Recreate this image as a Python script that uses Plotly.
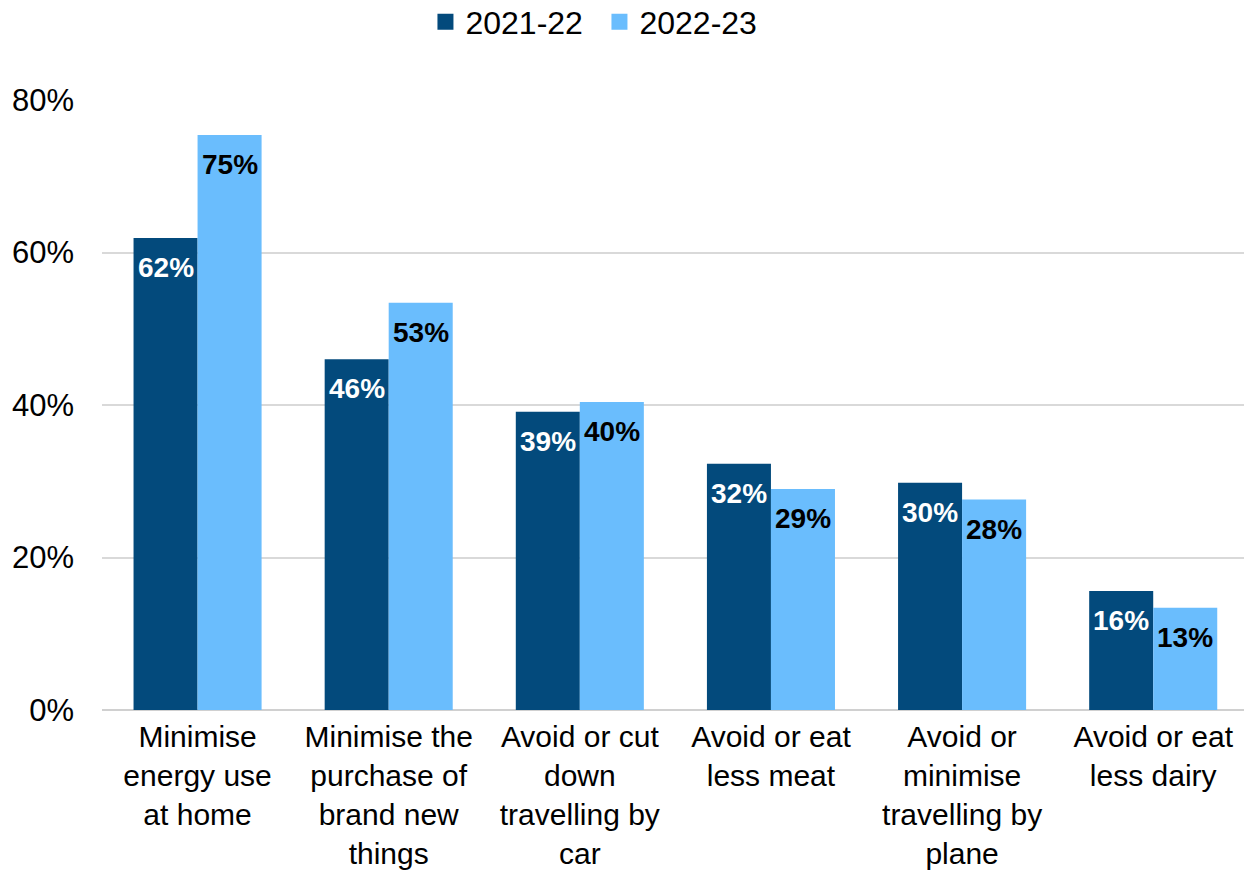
import plotly.graph_objects as go

categories = [
    "Minimise<br>energy use<br>at home",
    "Minimise the<br>purchase of<br>brand new<br>things",
    "Avoid or cut<br>down<br>travelling by<br>car",
    "Avoid or eat<br>less meat",
    "Avoid or<br>minimise<br>travelling by<br>plane",
    "Avoid or eat<br>less dairy",
]
series_names = ["2021-22", "2022-23"]
values_2021_22 = [0.619, 0.460, 0.391, 0.323, 0.298, 0.156]
values_2022_23 = [0.754, 0.534, 0.404, 0.290, 0.276, 0.134]

dark = "#034A7C"
light = "#6ABDFD"
font_family = "Liberation Sans, Arial, sans-serif"
bargap = 0.33
half = (1 - bargap) / 2
xpos = list(range(len(categories)))

fig = go.Figure()
for name, vals, colour in [(series_names[0], values_2021_22, dark), (series_names[1], values_2022_23, light)]:
    fig.add_trace(go.Bar(name=name, x=xpos, y=vals, showlegend=False,
                         marker=dict(color=colour, line=dict(width=0))))
    # legend entry with a larger square swatch
    fig.add_trace(go.Scatter(name=name, x=[None], y=[None], mode="markers",
                             marker=dict(symbol="square", size=17, color=colour),
                             showlegend=True, hoverinfo="skip"))

# value labels just inside the top of each bar
for vals, offset, colour in [(values_2021_22, -half / 2, "white"), (values_2022_23, half / 2, "black")]:
    for i, v in enumerate(vals):
        fig.add_annotation(x=i + offset, y=v, text=f"{round(v * 100):.0f}%",
                           showarrow=False, yanchor="top", yshift=-12,
                           font=dict(family=font_family, size=28, color=colour, weight="bold"))

fig.update_layout(
    width=1244, height=874,
    margin=dict(l=102, r=0, t=100, b=164, autoexpand=False),
    barmode="group", bargap=bargap, bargroupgap=0,
    plot_bgcolor="white", paper_bgcolor="white",
    font=dict(family=font_family, size=31, color="black"),
    legend=dict(orientation="h", x=0.4356, xanchor="center", y=1.128, yanchor="middle",
                font=dict(size=32), itemwidth=30, itemsizing="trace", tracegroupgap=0,
                entrywidth=129),
    xaxis=dict(tickmode="array", tickvals=xpos, ticktext=categories,
               range=[-0.5, 5.475], showgrid=False, showline=False, ticks="",
               tickfont=dict(size=30), ticklabelstandoff=6, automargin=False),
    yaxis=dict(range=[0, 0.8], tickvals=[0, 0.2, 0.4, 0.6, 0.8], tickformat=".0%",
               showgrid=True, gridcolor="#D9D9D9", gridwidth=2, zeroline=True,
               zerolinecolor="#D0D0D0", zerolinewidth=2, showline=False, ticks="",
               tickfont=dict(size=31), ticklabelstandoff=27, automargin=False),
)

fig.write_html("out.html")
